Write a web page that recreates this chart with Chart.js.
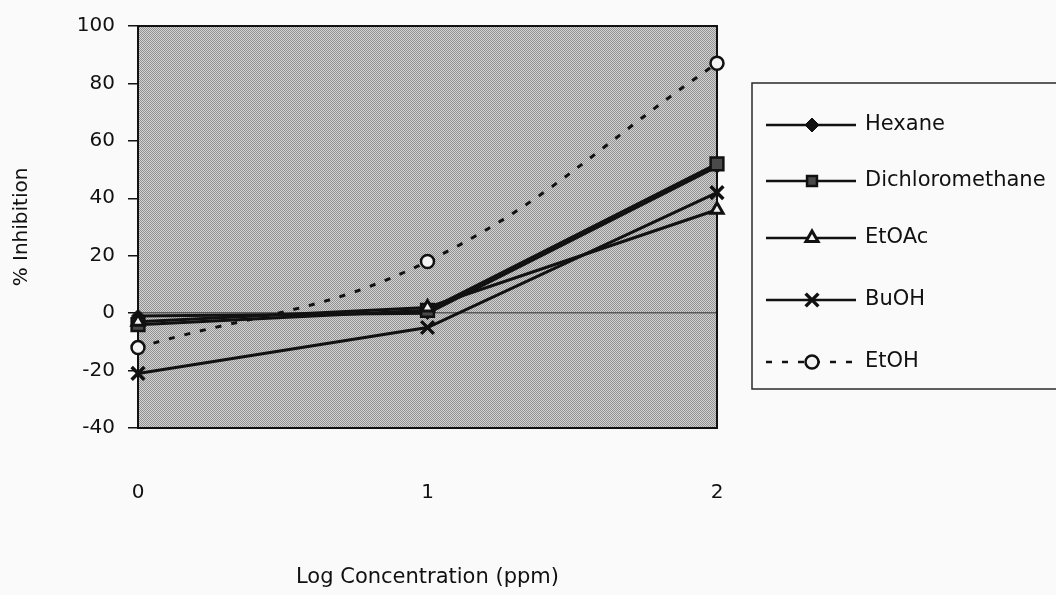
<!DOCTYPE html>
<html>
<head>
<meta charset="utf-8">
<script src="https://cdn.jsdelivr.net/npm/chart.js@4/dist/chart.umd.min.js"></script>
<style>
  html, body { margin: 0; padding: 0; background: #fafafa; }
  #wrap { width: 1056px; height: 595px; position: relative; }
</style>
</head>
<body>
<div id="wrap"><canvas id="c" width="1056" height="595"></canvas></div>
<script>
// Log concentration (ppm) on the x axis
const logConc = [0, 1, 2];

// % inhibition per solvent fraction
const hexane = [-1, 0, 51];
const dichloromethane = [-4, 1, 52];
const etoac = [-3, 2, 36];
const buoh = [-21, -5, 42];
const etoh = [-12, 18, 87];

const seriesNames = ['Hexane', 'Dichloromethane', 'EtOAc', 'BuOH', 'EtOH'];
const yTicks = [-40, -20, 0, 20, 40, 60, 80, 100];
const xTicks = [0, 1, 2];
const xTitle = 'Log Concentration (ppm)';
const yTitle = '% Inhibition';

const FONT = 'DejaVu Sans';
const INK = '#111111';

function pts(vals) { return logConc.map((x, i) => ({ x: x, y: vals[i] })); }

// halftone-like fill for the plot area
function dotPattern() {
  const c = document.createElement('canvas');
  c.width = 2; c.height = 2;
  const g = c.getContext('2d');
  g.fillStyle = '#d2d2d2'; g.fillRect(0, 0, 2, 2);
  g.fillStyle = '#929292'; g.fillRect(0, 0, 1, 1); g.fillRect(1, 1, 1, 1);
  return g.createPattern(c, 'repeat');
}

const plotBg = {
  id: 'plotBg',
  beforeDraw(chart) {
    const { ctx, chartArea: a } = chart;
    ctx.save();
    ctx.fillStyle = dotPattern();
    ctx.fillRect(a.left, a.top, a.right - a.left, a.bottom - a.top);
    ctx.restore();
  },
  beforeDatasetsDraw(chart) {
    const { ctx, chartArea: a } = chart;
    ctx.save();
    ctx.strokeStyle = INK;
    ctx.lineWidth = 2;
    ctx.strokeRect(a.left, a.top, a.right - a.left, a.bottom - a.top);
    ctx.restore();
  }
};

// boxed legend on the right
const sideLegend = {
  id: 'sideLegend',
  afterDraw(chart) {
    const ctx = chart.ctx;
    const box = { left: 752, top: 83, right: 1062, bottom: 389 };
    const rows = [125, 181, 238, 300, 362];
    ctx.save();
    ctx.strokeStyle = '#2a2a2a';
    ctx.lineWidth = 1.5;
    ctx.strokeRect(box.left, box.top, box.right - box.left, box.bottom - box.top);
    chart.data.datasets.forEach((ds, i) => {
      const y = rows[i];
      ctx.save();
      ctx.strokeStyle = ds.borderColor;
      ctx.lineWidth = 2.5;
      ctx.setLineDash(ds.borderDash || []);
      ctx.beginPath();
      ctx.moveTo(766, y); ctx.lineTo(856, y);
      ctx.stroke();
      ctx.restore();
      ctx.save();
      ctx.fillStyle = ds.pointBackgroundColor;
      ctx.strokeStyle = ds.pointBorderColor;
      ctx.lineWidth = ds.pointBorderWidth;
      ctx.setLineDash([]);
      Chart.helpers.drawPoint(ctx, {
        pointStyle: ds.pointStyle,
        radius: ds.legendRadius,
        borderWidth: ds.pointBorderWidth,
        rotation: 0
      }, 812, y);
      ctx.restore();
      ctx.fillStyle = INK;
      ctx.font = '21px "' + FONT + '"';
      ctx.textBaseline = 'middle';
      ctx.textAlign = 'left';
      ctx.fillText(ds.label, 865, y);
    });
    ctx.restore();
  }
};

const solid = { borderColor: INK, borderWidth: 3, fill: false, tension: 0, clip: false };

const data = {
  datasets: [
    Object.assign({}, solid, {
      label: seriesNames[0], data: pts(hexane), order: 3,
      pointStyle: 'rectRot', pointRadius: 6.5, legendRadius: 7,
      pointBackgroundColor: INK, pointBorderColor: INK, pointBorderWidth: 1
    }),
    Object.assign({}, solid, {
      label: seriesNames[1], data: pts(dichloromethane), order: 1,
      pointStyle: 'rect', pointRadius: 9, legendRadius: 7,
      pointBackgroundColor: '#4a4a4a', pointBorderColor: INK, pointBorderWidth: 2.5
    }),
    Object.assign({}, solid, {
      label: seriesNames[2], data: pts(etoac), order: 0,
      pointStyle: 'triangle', pointRadius: 7, legendRadius: 7,
      pointBackgroundColor: '#f4f4f4', pointBorderColor: INK, pointBorderWidth: 3
    }),
    Object.assign({}, solid, {
      label: seriesNames[3], data: pts(buoh), order: 4,
      pointStyle: 'crossRot', pointRadius: 9, legendRadius: 9,
      pointBackgroundColor: INK, pointBorderColor: INK, pointBorderWidth: 3.5
    }),
    {
      label: seriesNames[4], data: pts(etoh), order: 5,
      borderColor: INK, borderWidth: 3, borderDash: [6, 10], fill: false,
      tension: 0.4, clip: false,
      pointStyle: 'circle', pointRadius: 6.5, legendRadius: 6.5,
      pointBackgroundColor: '#f4f4f4', pointBorderColor: INK, pointBorderWidth: 2.5
    }
  ]
};

new Chart(document.getElementById('c'), {
  type: 'line',
  data: data,
  plugins: [plotBg, sideLegend],
  options: {
    responsive: false,
    animation: false,
    devicePixelRatio: 1,
    layout: { padding: { left: 0, right: 339, top: 26, bottom: 0 } },
    plugins: { legend: { display: false }, tooltip: { enabled: false } },
    scales: {
      x: {
        type: 'linear', min: 0, max: 2,
        afterBuildTicks(scale) { scale.ticks = xTicks.map(v => ({ value: v })); },
        afterFit(scale) { scale.height = 167; },
        grid: { display: false, drawTicks: false },
        border: { display: true, color: INK, width: 2 },
        ticks: { padding: 53, color: INK, font: { family: FONT, size: 20 } },
        title: {
          display: true, text: xTitle, color: INK,
          font: { family: FONT, size: 21 }, padding: { top: 0, bottom: 5 }
        }
      },
      y: {
        min: -40, max: 100,
        afterBuildTicks(scale) { scale.ticks = yTicks.map(v => ({ value: v })); },
        afterFit(scale) { scale.width = 138; },
        grid: {
          color: c => (c.tick && c.tick.value === 0) ? '#5a5a5a' : 'rgba(0,0,0,0)',
          tickColor: INK, tickLength: 10, lineWidth: 1.5, drawOnChartArea: true
        },
        border: { display: true, color: INK, width: 2 },
        ticks: { padding: 13, color: INK, font: { family: FONT, size: 20 } },
        title: {
          display: true, text: yTitle, color: INK,
          font: { family: FONT, size: 20 }, padding: { top: 10, bottom: 0 }
        }
      }
    }
  }
});
</script>
</body>
</html>
